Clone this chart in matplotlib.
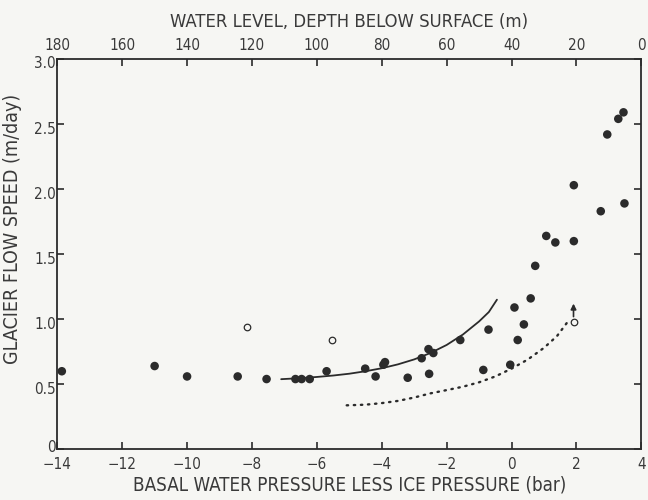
import matplotlib
matplotlib.use("Agg")
import matplotlib.pyplot as plt
import matplotlib.transforms as mtransforms

plt.rcParams['font.family'] = ['DejaVu Sans']
plt.rcParams['font.stretch'] = 'condensed'

# Filled circles: basal water pressure less ice pressure (bar) vs flow speed (m/day)
pressure = [-13.86, -11.0, -10.0, -8.44, -7.55, -6.66, -6.47, -6.22, -5.70,
            -4.51, -4.19, -3.95, -3.90, -3.20, -2.77, -2.56, -2.41, -2.54,
            -1.58, -0.87, -0.71, -0.04, 0.09, 0.19, 0.38, 0.59, 0.73,
            1.07, 1.35, 1.92, 1.92, 2.75, 2.95, 3.29, 3.45, 3.48]
speed = [0.60, 0.64, 0.56, 0.56, 0.54, 0.54, 0.54, 0.54, 0.60,
         0.62, 0.56, 0.65, 0.67, 0.55, 0.70, 0.77, 0.74, 0.58,
         0.84, 0.61, 0.92, 0.65, 1.09, 0.84, 0.96, 1.16, 1.41,
         1.64, 1.59, 2.03, 1.60, 1.83, 2.42, 2.54, 2.59, 1.89]

# Open circles
open_pressure = [-8.15, -5.54, 1.91]
open_speed = [0.94, 0.84, 0.98]

# Solid trend curve
solid_x = [-7.1, -6.5, -6.0, -5.5, -5.0, -4.5, -4.0, -3.5, -3.0, -2.5,
           -2.0, -1.5, -1.0, -0.7, -0.45]
solid_y = [0.539, 0.547, 0.556, 0.567, 0.581, 0.600, 0.623, 0.653, 0.691,
           0.740, 0.802, 0.882, 0.983, 1.055, 1.15]

# Dotted trend curve
dotted_x = [-5.08, -4.5, -4.0, -3.5, -3.0, -2.5, -2.0, -1.5, -1.0, -0.5,
            0.0, 0.5, 1.0, 1.4, 1.7]
dotted_y = [0.338, 0.343, 0.355, 0.372, 0.398, 0.430, 0.455, 0.481, 0.515,
            0.560, 0.620, 0.690, 0.780, 0.870, 0.970]

# Arrow above the last open circle
arrow_x = 1.91
arrow_from = 1.02
arrow_to = 1.12

x_ticks = [-14, -12, -10, -8, -6, -4, -2, 0, 2, 4]
y_ticks = [0, 0.5, 1.0, 1.5, 2.0, 2.5, 3.0]
y_tick_labels = ["0", "0.5", "1.0", "1.5", "2.0", "2.5", "3.0"]
depth_ticks = [180, 160, 140, 120, 100, 80, 60, 40, 20, 0]

ink = '#2b2b2b'
text_ink = '#3a3a3a'
bg = '#f6f6f3'

fig = plt.figure(figsize=(6.48, 5.0), dpi=100, facecolor=bg)
ax = fig.add_axes([0.0884, 0.1014, 0.9013, 0.7806], facecolor=bg)

ax.plot(solid_x, solid_y, color=ink, lw=1.3, solid_capstyle='round')
ax.plot(dotted_x, dotted_y, color=ink, lw=1.7, linestyle=(0, (0.6, 2.4)),
        dash_capstyle='round')
ax.scatter(pressure, speed, s=38, color=ink, edgecolors='none', zorder=3)
ax.scatter(open_pressure, open_speed, s=22, facecolors=bg, edgecolors=ink,
           linewidths=0.9, zorder=3)
ax.annotate('', xy=(arrow_x, arrow_to), xytext=(arrow_x, arrow_from),
            arrowprops=dict(arrowstyle='-|>', color=ink, lw=1.2,
                            mutation_scale=8, shrinkA=0, shrinkB=0))

ax.set_xlim(-14, 4)
ax.set_ylim(0, 3.0)
ax.set_xticks(x_ticks)
ax.set_xticklabels([str(v).replace('-', '\u2212') for v in x_ticks])
ax.set_yticks(y_ticks)
ax.set_yticklabels(y_tick_labels)

for side in ['left', 'right', 'top', 'bottom']:
    ax.spines[side].set_color(ink)
    ax.spines[side].set_linewidth(1.3)

ax.tick_params(axis='both', direction='in', length=5, width=1.2, color=ink,
               labelsize=11, labelcolor=text_ink)
ax.tick_params(axis='x', pad=5.5)
ax.tick_params(axis='y', right=True, labelright=False, pad=1)

# the upper y tick labels sit slightly below their ticks, the zero label
# is nudged up clear of the corner
shift_down = mtransforms.ScaledTranslation(0, -2.5 / 72, fig.dpi_scale_trans)
shift_up = mtransforms.ScaledTranslation(0, 2.5 / 72, fig.dpi_scale_trans)
ylabels = ax.get_yticklabels()
ylabels[0].set_transform(ylabels[0].get_transform() + shift_up)
for lbl in ylabels[1:]:
    lbl.set_transform(lbl.get_transform() + shift_down)

top = ax.secondary_xaxis('top', functions=(lambda p: (4 - p) * 10,
                                           lambda d: 4 - d / 10))
top.set_xticks(depth_ticks)
top.set_xticklabels([str(d) for d in depth_ticks])
top.tick_params(direction='in', length=5, width=1.2, color=ink,
                labelsize=11, labelcolor=text_ink, pad=4)
top.spines['top'].set_visible(False)

ax.set_xlabel('BASAL WATER PRESSURE LESS ICE PRESSURE (bar)', fontsize=13.5,
              color=text_ink, labelpad=2.5)
ax.set_ylabel('GLACIER FLOW SPEED (m/day)', fontsize=14, color=text_ink,
              va='center')
ax.yaxis.set_label_coords(-0.076, 0.564)
top.set_xlabel('WATER LEVEL, DEPTH BELOW SURFACE (m)', fontsize=13.2,
               color=text_ink, labelpad=8)

fig.savefig('out.png', dpi=100, facecolor=bg)
